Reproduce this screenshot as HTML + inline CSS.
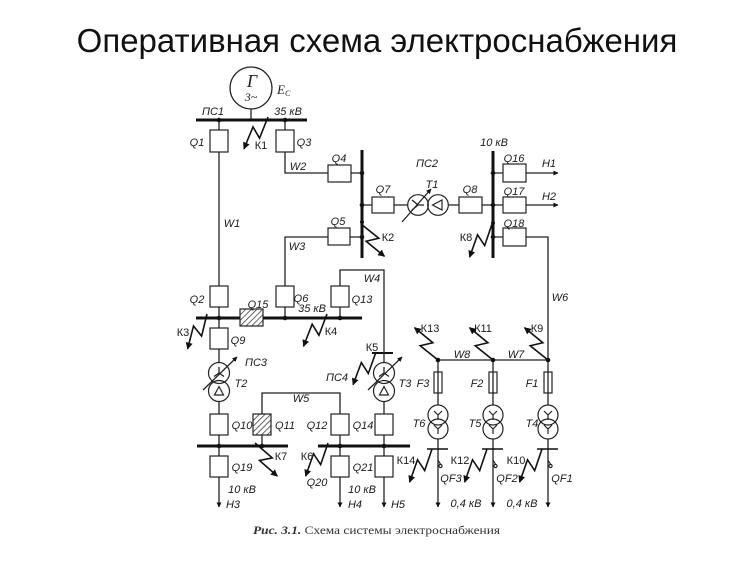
<!DOCTYPE html>
<html><head><meta charset="utf-8">
<style>
html,body{margin:0;padding:0;background:#fff;}
svg{display:block;}
.t{font-family:"Liberation Sans",sans-serif;font-style:italic;font-size:11px;fill:#1a1a1a;}
.k{font-family:"Liberation Sans",sans-serif;font-size:11px;fill:#1a1a1a;}
.ln{fill:none;stroke:#222;stroke-width:1.3;}
.bus{stroke:#111;stroke-width:3;}
.bx{fill:#fff;stroke:#222;stroke-width:1.2;}
.dot{fill:#111;}
</style></head><body>
<svg width="750" height="562" viewBox="0 0 750 562" xmlns="http://www.w3.org/2000/svg">
<defs>
<marker id="ah" viewBox="0 0 10 10" refX="9" refY="5" markerWidth="8" markerHeight="7" markerUnits="userSpaceOnUse" orient="auto"><path d="M0,0 L10,5 L0,10 z" fill="#111"/></marker>
<marker id="as" viewBox="0 0 10 10" refX="9" refY="5" markerWidth="6" markerHeight="5" markerUnits="userSpaceOnUse" orient="auto"><path d="M0,0 L10,5 L0,10 z" fill="#111"/></marker>
<pattern id="hatch" width="4" height="4" patternUnits="userSpaceOnUse" patternTransform="rotate(45)"><rect width="4" height="4" fill="#fff"/><line x1="0" y1="0" x2="0" y2="4" stroke="#333" stroke-width="1.5"/></pattern>
<path id="zz" d="M0,0 L22,-6 L17,6 L40,0" fill="none" stroke="#111" stroke-width="1.6" marker-end="url(#ah)"/>
</defs>
<rect width="750" height="562" fill="#fff"/>

<!-- Title -->
<text x="377" y="52" font-family="Liberation Sans, sans-serif" font-size="33" text-anchor="middle" fill="#111">Оперативная схема электроснабжения</text>

<!-- Generator -->
<circle cx="251" cy="88" r="21" fill="none" stroke="#222" stroke-width="1.3"/>
<text x="252" y="87" font-family="Liberation Serif, serif" font-style="italic" font-size="18" text-anchor="middle" fill="#222">Г</text>
<text x="251" y="101" font-family="Liberation Serif, serif" font-style="italic" font-size="12" text-anchor="middle" fill="#222">3~</text>
<text x="277" y="94" font-family="Liberation Serif, serif" font-style="italic" font-size="13" fill="#222">E<tspan font-size="8" dy="2">C</tspan></text>
<line x1="251" y1="109" x2="251" y2="120" class="ln"/>

<!-- Buses -->
<line x1="196" y1="120" x2="307" y2="120" class="bus"/>
<line x1="362" y1="150" x2="362" y2="258" class="bus"/>
<line x1="493" y1="151" x2="493" y2="258" class="bus"/>
<line x1="196" y1="318" x2="362" y2="318" class="bus"/>
<line x1="197" y1="446" x2="288" y2="446" class="bus"/>
<line x1="318" y1="446" x2="410" y2="446" class="bus"/>
<line x1="372" y1="353" x2="393" y2="353" stroke="#111" stroke-width="2"/>

<!-- Connection lines -->
<path class="ln" d="M219,120 V130 M219,152 V286 M285,120 V130 M285,152 V173 H328 M351,173 H362
M362,237 H350 M328,237 H285 V286 M362,205 H372 M394,205 H407.7 M448.3,205 H459 M482,205 H493
M493,173 H503 M493,205 H503 M493,237 H503 M526,237 H548 V360 H438
M219,307 V328 M219,349 V362.5 M219,401.5 V414 M219,435 V456
M285,307 V318 M340,307 V318 M340,286 V270 H384 V362.5 M384,401.5 V414 M384,435 V456
M262,446 V435 M262,414 V393 H340 V414 M340,435 V456
M438,360 V405 M493,360 V405 M548,360 V405"/>
<path class="ln" d="M526,173 H558" marker-end="url(#as)"/>
<path class="ln" d="M526,205 H558" marker-end="url(#as)"/>
<path class="ln" d="M219,477 V507" marker-end="url(#as)"/>
<path class="ln" d="M340,477 V507" marker-end="url(#as)"/>
<path class="ln" d="M384,477 V507" marker-end="url(#as)"/>
<path class="ln" d="M438,439 V507" marker-end="url(#as)"/>
<path class="ln" d="M493,439 V507" marker-end="url(#as)"/>
<path class="ln" d="M548,439 V507" marker-end="url(#as)"/>

<!-- Breaker boxes -->
<rect class="bx" x="210" y="130" width="18" height="22"/>
<rect class="bx" x="276" y="130" width="18" height="22"/>
<rect class="bx" x="328" y="165" width="23" height="17"/>
<rect class="bx" x="328" y="228" width="22" height="17"/>
<rect class="bx" x="372" y="197" width="22" height="16"/>
<rect class="bx" x="459" y="197" width="23" height="16"/>
<rect class="bx" x="503" y="164" width="23" height="18"/>
<rect class="bx" x="503" y="197" width="23" height="16"/>
<rect class="bx" x="503" y="228" width="23" height="18"/>
<rect class="bx" x="210" y="286" width="18" height="21"/>
<rect class="bx" x="276" y="286" width="18" height="21"/>
<rect class="bx" x="331" y="286" width="18" height="21"/>
<rect x="240" y="309" width="23" height="17" fill="url(#hatch)" stroke="#222" stroke-width="1.2"/>
<rect class="bx" x="210" y="328" width="18" height="21"/>
<rect class="bx" x="210" y="414" width="18" height="21"/>
<rect x="253" y="414" width="18" height="21" fill="url(#hatch)" stroke="#222" stroke-width="1.2"/>
<rect class="bx" x="331" y="414" width="18" height="21"/>
<rect class="bx" x="375" y="414" width="18" height="21"/>
<rect class="bx" x="210" y="456" width="18" height="21"/>
<rect class="bx" x="331" y="456" width="18" height="21"/>
<rect class="bx" x="375" y="456" width="18" height="21"/>

<!-- T1 -->
<circle cx="418" cy="205" r="10.3" fill="none" stroke="#222" stroke-width="1.2"/>
<circle cx="438" cy="205" r="10.3" fill="none" stroke="#222" stroke-width="1.2"/>
<path class="ln" d="M418,205 L412,200 M418,205 L412,210 M418,205 L424,205"/>
<polygon points="432.5,205 442,200 442,210" fill="none" stroke="#222" stroke-width="1.2"/>
<path class="ln" d="M402,222 L431,189" marker-end="url(#as)"/>

<!-- T2 -->
<circle cx="219" cy="373" r="10.5" fill="none" stroke="#222" stroke-width="1.2"/>
<circle cx="219" cy="391" r="10.5" fill="none" stroke="#222" stroke-width="1.2"/>
<path class="ln" d="M219,373 V367 M219,373 L214,376.5 M219,373 L224,376.5"/>
<polygon points="219,386.5 214.5,395 223.5,395" fill="none" stroke="#222" stroke-width="1.2"/>
<path class="ln" d="M203,390 L237,357" marker-end="url(#as)"/>

<!-- T3 -->
<circle cx="384" cy="373" r="10.5" fill="none" stroke="#222" stroke-width="1.2"/>
<circle cx="384" cy="391" r="10.5" fill="none" stroke="#222" stroke-width="1.2"/>
<path class="ln" d="M384,373 V367 M384,373 L379,376.5 M384,373 L389,376.5"/>
<polygon points="384,386.5 379.5,395 388.5,395" fill="none" stroke="#222" stroke-width="1.2"/>
<path class="ln" d="M368,390 L402,357" marker-end="url(#as)"/>

<!-- Fuses and T4-T6 -->
<g>
<rect class="bx" x="434" y="372" width="8" height="21"/><line x1="438" y1="372" x2="438" y2="393" class="ln"/>
<rect class="bx" x="489" y="372" width="8" height="21"/><line x1="493" y1="372" x2="493" y2="393" class="ln"/>
<rect class="bx" x="544" y="372" width="8" height="21"/><line x1="548" y1="372" x2="548" y2="393" class="ln"/>
</g>
<g fill="none" stroke="#222" stroke-width="1.2">
<circle cx="438" cy="415" r="10"/><circle cx="438" cy="429" r="10"/>
<circle cx="493" cy="415" r="10"/><circle cx="493" cy="429" r="10"/>
<circle cx="548" cy="415" r="10"/><circle cx="548" cy="429" r="10"/>
<path d="M438,415 L434,411 M438,415 L442,411 M438,415 V420 M438,429 L434,425 M438,429 L442,425 M438,429 V434"/>
<path d="M493,415 L489,411 M493,415 L497,411 M493,415 V420 M493,429 L489,425 M493,429 L497,425 M493,429 V434"/>
<path d="M548,415 L544,411 M548,415 L552,411 M548,415 V420 M548,429 L544,425 M548,429 L552,425 M548,429 V434"/>
<circle cx="440.5" cy="466" r="1.6"/><circle cx="495.5" cy="466" r="1.6"/><circle cx="550.5" cy="466" r="1.6"/>
<path d="M438,460 L441,465 M493,460 L496,465 M548,460 L551,465"/>
</g>
<path stroke="#111" stroke-width="1.6" d="M427,449 H448 M482,449 H503 M537,449 H558"/>

<!-- Dots -->
<g class="dot">
<circle cx="219" cy="120" r="2.3"/><circle cx="285" cy="120" r="2.3"/>
<circle cx="362" cy="173" r="2.3"/><circle cx="362" cy="205" r="2.3"/><circle cx="362" cy="222" r="2"/><circle cx="362" cy="237" r="2.3"/>
<circle cx="493" cy="173" r="2.3"/><circle cx="493" cy="205" r="2.3"/><circle cx="493" cy="223" r="2"/><circle cx="493" cy="237" r="2.3"/>
<circle cx="219" cy="318" r="2.3"/><circle cx="285" cy="318" r="2.3"/><circle cx="340" cy="318" r="2.3"/>
<circle cx="219" cy="446" r="2.3"/><circle cx="262" cy="446" r="2.3"/><circle cx="340" cy="446" r="2.3"/><circle cx="384" cy="446" r="2.3"/>
<circle cx="438" cy="360" r="2.3"/><circle cx="493" cy="360" r="2.3"/><circle cx="548" cy="360" r="2.3"/>
</g>

<!-- Short-circuit zigzags -->
<use href="#zz" transform="translate(268,117) rotate(127)"/>
<use href="#zz" transform="translate(361,224) rotate(54)"/>
<use href="#zz" transform="translate(492,224) rotate(124)"/>
<use href="#zz" transform="translate(207,314) rotate(119)"/>
<use href="#zz" transform="translate(327,314) rotate(126)"/>
<use href="#zz" transform="translate(376,352) rotate(125)"/>
<use href="#zz" transform="translate(255,443) rotate(56)"/>
<use href="#zz" transform="translate(328,443) rotate(124)"/>
<use href="#zz" transform="translate(438,360) rotate(234)"/>
<use href="#zz" transform="translate(493,360) rotate(234)"/>
<use href="#zz" transform="translate(548,360) rotate(234)"/>
<use href="#zz" transform="translate(432,449) rotate(124)"/>
<use href="#zz" transform="translate(487,449) rotate(124)"/>
<use href="#zz" transform="translate(542,449) rotate(124)"/>

<!-- Labels -->
<g class="t" text-anchor="middle">
<text x="213" y="115">ПС1</text>
<text x="288" y="115">35 кВ</text>
<text x="197" y="146">Q1</text>
<text x="304" y="146">Q3</text>
<text x="298" y="170">W2</text>
<text x="339" y="162">Q4</text>
<text x="427" y="167">ПС2</text>
<text x="494" y="146">10 кВ</text>
<text x="383" y="193">Q7</text>
<text x="432" y="188">T1</text>
<text x="470" y="193">Q8</text>
<text x="514" y="162">Q16</text>
<text x="514" y="195">Q17</text>
<text x="514" y="227">Q18</text>
<text x="549" y="167">Н1</text>
<text x="549" y="200">Н2</text>
<text x="232" y="227">W1</text>
<text x="338" y="225">Q5</text>
<text x="297" y="250">W3</text>
<text x="372" y="282">W4</text>
<text x="560" y="301">W6</text>
<text x="197" y="303">Q2</text>
<text x="258" y="308">Q15</text>
<text x="301" y="302">Q6</text>
<text x="312" y="312">35 кВ</text>
<text x="362" y="303">Q13</text>
<text x="238" y="344">Q9</text>
<text x="462" y="358">W8</text>
<text x="516" y="358">W7</text>
<text x="256" y="366">ПС3</text>
<text x="337" y="381">ПС4</text>
<text x="241" y="387">T2</text>
<text x="405" y="387">T3</text>
<text x="423" y="387">F3</text>
<text x="477" y="387">F2</text>
<text x="532" y="387">F1</text>
<text x="301" y="402">W5</text>
<text x="419" y="427">T6</text>
<text x="475" y="427">T5</text>
<text x="532" y="427">T4</text>
<text x="242" y="429">Q10</text>
<text x="285" y="429">Q11</text>
<text x="317" y="429">Q12</text>
<text x="363" y="429">Q14</text>
<text x="242" y="471">Q19</text>
<text x="363" y="471">Q21</text>
<text x="451" y="482">QF3</text>
<text x="507" y="482">QF2</text>
<text x="562" y="482">QF1</text>
<text x="317" y="486">Q20</text>
<text x="242" y="493">10 кВ</text>
<text x="362" y="493">10 кВ</text>
<text x="466" y="507">0,4 кВ</text>
<text x="522" y="507">0,4 кВ</text>
<text x="233" y="508">Н3</text>
<text x="355" y="508">Н4</text>
<text x="398" y="508">Н5</text>
</g>
<g class="k" text-anchor="middle">
<text x="261" y="149">К1</text>
<text x="388" y="241">К2</text>
<text x="466" y="241">К8</text>
<text x="183" y="336">К3</text>
<text x="331" y="335">К4</text>
<text x="430" y="332">К13</text>
<text x="483" y="332">К11</text>
<text x="537" y="332">К9</text>
<text x="372" y="351">К5</text>
<text x="281" y="460">К7</text>
<text x="307" y="460">К6</text>
<text x="406" y="464">К14</text>
<text x="460" y="464">К12</text>
<text x="516" y="464">К10</text>
</g>

<!-- Caption -->
<text x="253" y="534" font-family="Liberation Serif, serif" font-size="11.5" fill="#333" textLength="247" lengthAdjust="spacingAndGlyphs"><tspan font-weight="bold" font-style="italic">Рис. 3.1.</tspan> Схема системы электроснабжения</text>
</svg>
</body></html>
